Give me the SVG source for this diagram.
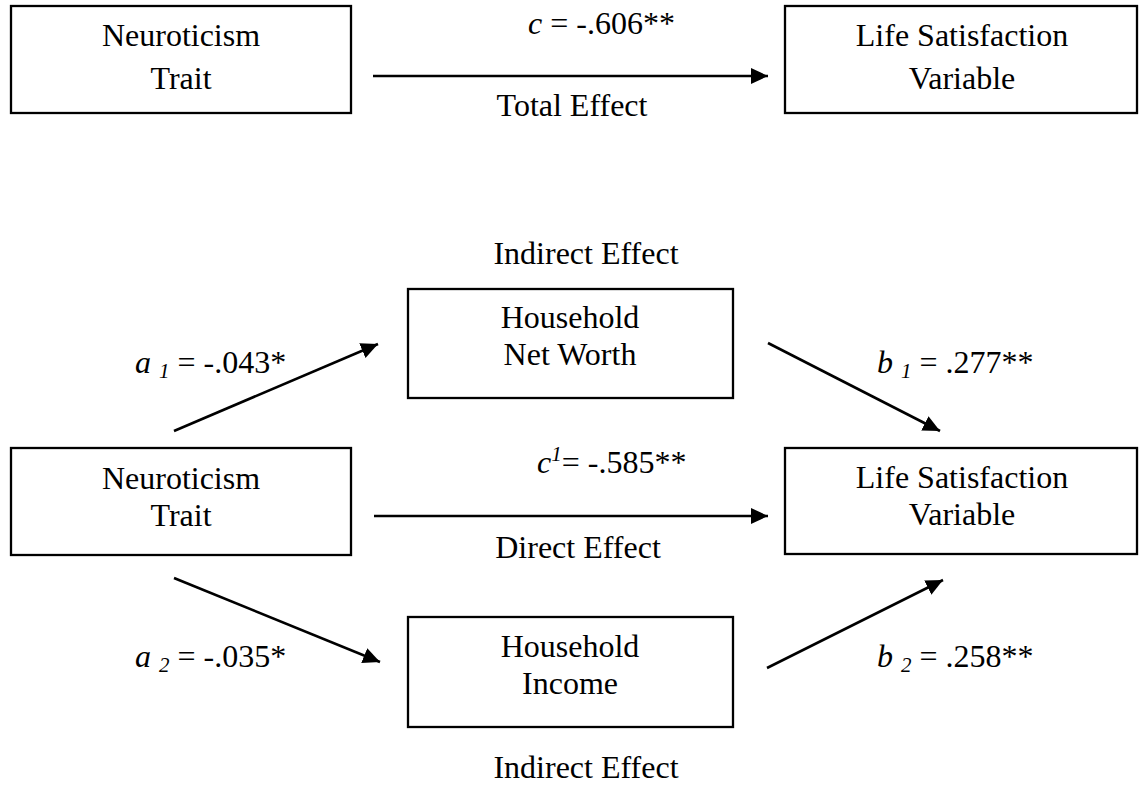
<svg xmlns="http://www.w3.org/2000/svg" width="1146" height="786" viewBox="0 0 1146 786">
  <style>
    .box { fill: #ffffff; stroke: #000000; stroke-width: 2.3; }
    .t { font-family: "Liberation Serif", "Times New Roman", serif; font-size: 32px; fill: #000000; }
    .c { text-anchor: middle; }
    .i { font-style: italic; }
    .sub { font-style: italic; font-size: 21px; }
    .edge { stroke: #000000; stroke-width: 2.6; fill: none; marker-end: url(#head); }
  </style>
  <defs>
    <marker id="head" markerUnits="userSpaceOnUse" markerWidth="18" markerHeight="17" refX="17" refY="8" orient="auto">
      <path d="M0,0 L17,8 L0,16 Z" fill="#000000"/>
    </marker>
  </defs>

  <rect width="1146" height="786" fill="#ffffff"/>

  <!-- Total effect model -->
  <g id="neuroticism-total">
    <rect class="box" x="11" y="6" width="340" height="107"/>
    <text class="t c" x="181" y="46">Neuroticism</text>
    <text class="t c" x="181" y="89">Trait</text>
  </g>
  <g id="life-satisfaction-total">
    <rect class="box" x="785" y="6" width="352" height="107"/>
    <text class="t c" x="962" y="46">Life Satisfaction</text>
    <text class="t c" x="962" y="89">Variable</text>
  </g>

  <!-- Mediation model -->
  <g id="net-worth">
    <rect class="box" x="408" y="289" width="325" height="109"/>
    <text class="t c" x="570" y="328">Household</text>
    <text class="t c" x="570" y="365">Net Worth</text>
  </g>
  <g id="neuroticism-mediated">
    <rect class="box" x="11" y="448" width="340" height="107"/>
    <text class="t c" x="181" y="489">Neuroticism</text>
    <text class="t c" x="181" y="526">Trait</text>
  </g>
  <g id="life-satisfaction-mediated">
    <rect class="box" x="785" y="448" width="352" height="106"/>
    <text class="t c" x="962" y="488">Life Satisfaction</text>
    <text class="t c" x="962" y="525">Variable</text>
  </g>
  <g id="income">
    <rect class="box" x="408" y="617" width="325" height="110"/>
    <text class="t c" x="570" y="657">Household</text>
    <text class="t c" x="570" y="694">Income</text>
  </g>

  <g id="connectors">
    <line class="edge" x1="373" y1="76" x2="768" y2="76"/>
    <line class="edge" x1="174" y1="431" x2="378" y2="344"/>
    <line class="edge" x1="768" y1="343" x2="940" y2="431"/>
    <line class="edge" x1="374" y1="516" x2="768" y2="516"/>
    <line class="edge" x1="174" y1="578" x2="380" y2="662"/>
    <line class="edge" x1="767" y1="668" x2="943" y2="580"/>
  </g>

  <g id="labels">
    <text class="t" x="528" y="34"><tspan class="i">c</tspan> = -.606**</text>
    <text class="t c" x="572" y="116">Total Effect</text>

    <text class="t c" x="586" y="264">Indirect Effect</text>
    <text class="t" x="135" y="373"><tspan class="i">a </tspan><tspan class="sub" dy="5">1</tspan><tspan dy="-5"> = -.043*</tspan></text>
    <text class="t" x="877" y="373"><tspan class="i">b </tspan><tspan class="sub" dy="5">1</tspan><tspan dy="-5"> = .277**</tspan></text>

    <text class="t" x="537" y="473"><tspan class="i">c</tspan><tspan class="sub" dy="-12">1</tspan><tspan dy="12">= -.585**</tspan></text>
    <text class="t c" x="578" y="558">Direct Effect</text>

    <text class="t" x="135" y="667"><tspan class="i">a </tspan><tspan class="sub" dy="5">2</tspan><tspan dy="-5"> = -.035*</tspan></text>
    <text class="t" x="877" y="667"><tspan class="i">b </tspan><tspan class="sub" dy="5">2</tspan><tspan dy="-5"> = .258**</tspan></text>

    <text class="t c" x="586" y="778">Indirect Effect</text>
  </g>
</svg>
